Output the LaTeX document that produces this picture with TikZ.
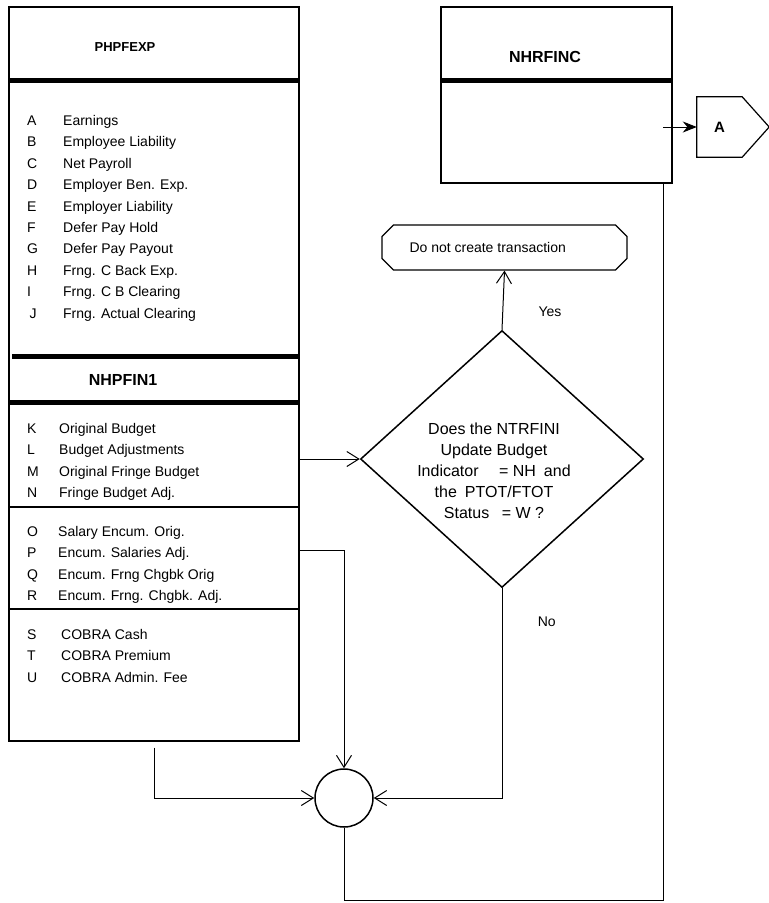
\documentclass[tikz,border=0pt]{standalone}
\usepackage{fontspec}
\setmainfont{Liberation Sans}
\usepackage{tikz}
\usetikzlibrary{positioning,arrows.meta,shapes.geometric,shapes.misc,calc}

\newcommand{\entry}[3][36pt]{\makebox[#1][l]{#2}#3}

\begin{document}
\begin{tikzpicture}[
        x=1pt,
        y=-1pt,
        >={Straight Barb[length=12pt,width=15pt]},
        frame/.style={
            rectangle,
            draw,
            line width=1.2pt,
            inner sep=0pt
        },
        title/.style={inner sep=0pt, font=\fontsize{16}{18}\selectfont\bfseries},
        item/.style={
            inner sep=0pt,
            text height=10pt,
            text depth=3pt,
            font=\fontsize{14}{16}\selectfont
        },
        heavy/.style={line width=5pt},
        rule/.style={line width=1.2pt},
        line/.style={->, line width=1pt},
        plain/.style={line width=1pt},
        decision/.style={
            diamond,
            draw,
            line width=1.5pt,
            minimum width=283pt,
            minimum height=257pt,
            inner sep=0pt
        },
        terminal/.style={
            chamfered rectangle,
            chamfered rectangle xsep=8pt,
            draw,
            line width=1.2pt,
            minimum width=245pt,
            minimum height=45pt,
            font=\fontsize{14}{16}\selectfont
        },
        offpage/.style={
            rectangle,
            minimum width=45pt,
            minimum height=60pt,
            inner sep=0pt,
            font=\fontsize{15}{17}\selectfont\bfseries
        },
        junction/.style={circle, draw, line width=1.5pt, minimum size=58pt, inner sep=0pt}
    ]

    \useasboundingbox (0,0) rectangle (769,903);

    % LEFT: FILE PHPFEXP / NHPFIN1
    \node[frame, minimum width=290pt, minimum height=734pt] (phpfexp) at (154,374) {};
    \node[title, font=\fontsize{13}{15}\selectfont\bfseries] (phpfexptitle) at (125,47) {PHPFEXP};
    \node[title] (nhpfin1) at (123,380) {NHPFIN1};

    \draw[heavy] (phpfexp.west |- 0,80) -- ([xshift=-2pt]phpfexp.east |- 0,80);
    \draw[heavy] ([xshift=4pt]phpfexp.west |- 0,356) -- (phpfexp.east |- 0,356);
    \draw[heavy] (phpfexp.west |- 0,402) -- ([xshift=-2pt]phpfexp.east |- 0,402);
    \draw[rule] (phpfexp.west |- 0,507) -- ([xshift=-2pt]phpfexp.east |- 0,507);
    \draw[rule] (phpfexp.west |- 0,609) -- ([xshift=-2pt]phpfexp.east |- 0,609);

    % ITEMS A - J
    \node[item, anchor=west] (rowa) at (27,122) {\entry{A}{Earnings}};
    \node[item, below=8pt of rowa.south west, anchor=north west] (rowb) {\entry{B}{Employee Liability}};
    \node[item, below=8pt of rowb.south west, anchor=north west] (rowc) {\entry{C}{Net Payroll}};
    \node[item, below=8pt of rowc.south west, anchor=north west] (rowd) {\entry{D}{Employer Ben. Exp.}};
    \node[item, below=8pt of rowd.south west, anchor=north west] (rowe) {\entry{E}{Employer Liability}};
    \node[item, below=8pt of rowe.south west, anchor=north west] (rowf) {\entry{F}{Defer Pay Hold}};
    \node[item, below=8pt of rowf.south west, anchor=north west] (rowg) {\entry{G}{Defer Pay Payout}};
    \node[item, below=8pt of rowg.south west, anchor=north west] (rowh) {\entry{H}{Frng. C Back Exp.}};
    \node[item, below=8pt of rowh.south west, anchor=north west] (rowi) {\entry{I}{Frng. C B Clearing}};
    \node[item, below=8pt of rowi.south west, anchor=north west] (rowj) {\entry{\,J}{Frng. Actual Clearing}};

    % ITEMS K - N
    \node[item, anchor=west] (rowk) at (27,430) {\entry[32pt]{K}{Original Budget}};
    \node[item, below=8pt of rowk.south west, anchor=north west] (rowl) {\entry[32pt]{L}{Budget Adjustments}};
    \node[item, below=8pt of rowl.south west, anchor=north west] (rowm) {\entry[32pt]{M}{Original Fringe Budget}};
    \node[item, below=8pt of rowm.south west, anchor=north west] (rown) {\entry[32pt]{N}{Fringe Budget Adj.}};

    % ITEMS O - R
    \node[item, anchor=west] (rowo) at (27,533) {\entry[31pt]{O}{Salary Encum. Orig.}};
    \node[item, below=8pt of rowo.south west, anchor=north west] (rowp) {\entry[31pt]{P}{Encum. Salaries Adj.}};
    \node[item, below=8pt of rowp.south west, anchor=north west] (rowq) {\entry[31pt]{Q}{Encum. Frng Chgbk Orig}};
    \node[item, below=8pt of rowq.south west, anchor=north west] (rowr) {\entry[31pt]{R}{Encum. Frng. Chgbk. Adj.}};

    % ITEMS S - U
    \node[item, anchor=west] (rows) at (27,636) {\entry[34pt]{S}{COBRA Cash}};
    \node[item, below=8pt of rows.south west, anchor=north west] (rowt) {\entry[34pt]{T}{COBRA Premium}};
    \node[item, below=8pt of rowt.south west, anchor=north west] (rowu) {\entry[34pt]{U}{COBRA Admin. Fee}};

    % RIGHT: FILE NHRFINC AND CONNECTOR A
    \node[frame, minimum width=231pt, minimum height=176pt] (nhrfinc) at (556.5,95) {};
    \node[title] (nhrfinctitle) at (545,57) {NHRFINC};
    \draw[heavy] (nhrfinc.west |- 0,80) -- (nhrfinc.east |- 0,80);
    \node[offpage] (offa) at (719.5,127) {A};
    \draw[line width=1.2pt] (offa.north west) -- (offa.north east) -- ($(offa.east)+(27,0)$)
        -- (offa.south east) -- (offa.south west) -- cycle;

    % DECISION AND OUTCOMES
    \node[decision] (decide) at (502,459) {};
    \node[align=center, inner sep=0pt, font=\fontsize{16}{21}\selectfont] (decidetext)
        at ([xshift=-8pt, yshift=-12pt]decide.center)
        {Does the NTRFINI\\Update Budget\\Indicator\quad\ = NH\enspace and\\the\enspace PTOT/FTOT\\Status\enspace\ = W ?};
    \node[terminal] (stop) at (504.5,247.5) {\makebox[190pt][l]{Do not create transaction}};
    \node[junction] (merge) at (344,798) {};

    \coordinate (nhrfincout) at (663,127);
    \coordinate (nhrfincdown) at (663,183);
    \coordinate (loopcorner) at (663,900);
    \coordinate (encout) at (299,550);

    % ============================================================
    % CONNECTIONS
    % ============================================================
    \draw[line, -{Stealth[length=14pt,width=11pt]}] (nhrfincout) -- (offa.west);
    \draw[line] (phpfexp.east |- decide.west) -- (decide.west);
    \draw[line] (decide.north) -- (stop.south) node[pos=0.3, right=32pt, font=\fontsize{14}{16}\selectfont] {Yes};
    \draw[line] (decide.south) |- (merge.east) node[pos=0.08, right=32pt, font=\fontsize{14}{16}\selectfont] {No};
    \draw[line] (encout) -| (merge.north);
    \draw[line] ([yshift=-6pt]phpfexp.south) |- (merge.west);
    \draw[plain] (nhrfincdown) -- (loopcorner) -| (merge.south);

\end{tikzpicture}
\end{document}
